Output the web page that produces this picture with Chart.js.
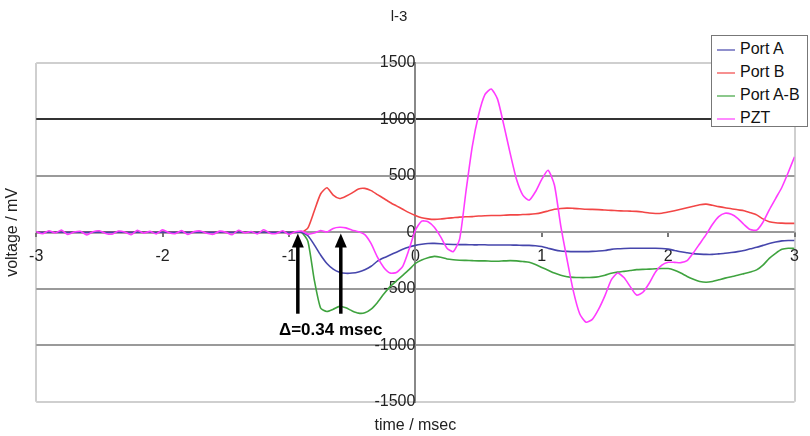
<!DOCTYPE html>
<html>
<head>
<meta charset="utf-8">
<title>l-3</title>
<script src="https://cdn.jsdelivr.net/npm/chart.js@4.4.0/dist/chart.umd.min.js"></script>
<style>
  html, body { margin: 0; padding: 0; background: #fff; }
  #wrap { position: relative; width: 810px; height: 436px; }
  #legend {
    position: absolute; left: 711px; top: 35px; width: 97px; height: 92px;
    box-sizing: border-box; border: 1px solid #777; background: #fff;
    font: 16px Arial, "Liberation Sans", sans-serif; color: #111; padding-top: 1px;
  }
  #legend .item { height: 23px; line-height: 23px; white-space: nowrap; }
  #legend .swatch {
    display: inline-block; width: 18px; height: 0; border-top: 2px solid;
    vertical-align: middle; margin: 0 5px 0 5px; opacity: 0.6;
  }
</style>
</head>
<body>
<div id="wrap">
  <canvas id="chart" width="810" height="436"></canvas>
  <div id="legend"></div>
</div>
<script>
// time axis (msec), one sample every 0.05 msec
const times = [
  -3, -2.95, -2.9, -2.85, -2.8, -2.75, -2.7, -2.65, -2.6, -2.55,
  -2.5, -2.45, -2.4, -2.35, -2.3, -2.25, -2.2, -2.15, -2.1, -2.05,
  -2, -1.95, -1.9, -1.85, -1.8, -1.75, -1.7, -1.65, -1.6, -1.55,
  -1.5, -1.45, -1.4, -1.35, -1.3, -1.25, -1.2, -1.15, -1.1, -1.05,
  -1, -0.95, -0.9, -0.85, -0.8, -0.75, -0.7, -0.65, -0.6, -0.55,
  -0.5, -0.45, -0.4, -0.35, -0.3, -0.25, -0.2, -0.15, -0.1, -0.05,
  0, 0.05, 0.1, 0.15, 0.2, 0.25, 0.3, 0.35, 0.4, 0.45,
  0.5, 0.55, 0.6, 0.65, 0.7, 0.75, 0.8, 0.85, 0.9, 0.95,
  1, 1.05, 1.1, 1.15, 1.2, 1.25, 1.3, 1.35, 1.4, 1.45,
  1.5, 1.55, 1.6, 1.65, 1.7, 1.75, 1.8, 1.85, 1.9, 1.95,
  2, 2.05, 2.1, 2.15, 2.2, 2.25, 2.3, 2.35, 2.4, 2.45,
  2.5, 2.55, 2.6, 2.65, 2.7, 2.75, 2.8, 2.85, 2.9, 2.95,
  3
];

// voltages in mV
const portA = [
  0, 0, 0, 0, 0, 0, 0, 0, 0, 0, 0, 0, 0, 0, 0, 0, 0, 0, 0, 0, 0,
  0, 0, 0, 0, 0, 0, 0, 0, 0, 0, 0, 0, 0, 0, 0, 0, 0, 0, 0, 0, 0,
  0, -30, -110, -200, -275, -325, -352, -362, -360, -350, -330, -300, -255, -225, -200, -175, -150, -130, -115,
  -105, -98, -97, -100, -105, -107, -108, -108, -110, -110, -110, -112, -112, -112, -112, -113, -115, -115, -118, -125,
  -140, -155, -165, -168, -170, -170, -170, -168, -165, -160, -150, -145, -142, -140, -140, -140, -140, -140, -142, -148,
  -160, -172, -180, -188, -192, -195, -195, -190, -185, -178, -170, -160, -145, -132, -115, -98, -85, -75, -72, -72
];

const portB = [
  0, 0, 0, 0, 0, 0, 0, 0, 0, 0, 0, 0, 0, 0, 0, 0, 0, 0, 0, 0, 0,
  0, 0, 0, 0, 0, 0, 0, 0, 0, 0, 0, 0, 0, 0, 0, 0, 0, 0, 0, 0, 0,
  0, 40, 190, 340, 395, 330, 300, 320, 350, 385, 390, 370, 335, 300, 265, 235, 205, 175, 150,
  130, 120, 115, 118, 125, 130, 135, 138, 140, 145, 148, 150, 150, 152, 155, 155, 158, 160, 165, 175,
  190, 205, 212, 215, 213, 210, 205, 204, 202, 198, 195, 192, 190, 188, 186, 180, 172, 168, 170, 180,
  192, 205, 218, 232, 245, 250, 240, 228, 218, 210, 200, 192, 175, 155, 120, 95, 85, 82, 80, 80
];

const portAB = [
  0, 0, 0, 0, 0, 0, 0, 0, 0, 0, 0, 0, 0, 0, 0, 0, 0, 0, 0, 0, 0,
  0, 0, 0, 0, 0, 0, 0, 0, 0, 0, 0, 0, 0, 0, 0, 0, 0, 0, 0, 0, 0,
  0, -80, -420, -670, -700, -680, -655, -668, -695, -715, -712, -680, -620, -545, -480, -430, -380, -330, -275,
  -245, -225, -212, -220, -235, -242, -246, -248, -250, -252, -252, -255, -255, -252, -250, -252, -258, -265, -285, -310,
  -335, -360, -380, -392, -398, -400, -400, -398, -392, -380, -362, -352, -345, -338, -330, -327, -325, -322, -320, -320,
  -335, -360, -390, -415, -435, -442, -435, -420, -405, -392, -380, -365, -350, -332, -290, -230, -185, -150, -140, -142
];

const pzt = [
  8, -12, 15, -5, 20, -18, 3, 10, -22, 6, 14, -9, -16, 12, 4, -20, 18, -6, 9, -14,
  22, -3, -11, 16, -19, 7, 13, -8, -17, 11, 2, -21, 19, -4, 8, -13, 24, -7, -10, 15,
  -18, 5, 12, -15, -6, 17, 3,
  35, 45, 40, 20, 5, -20, -100, -220, -310, -360, -355, -300, -150, 20,
  100, 95, 45, -40, -140, -170, -60, 360, 760, 1040, 1220, 1270, 1180, 950, 700, 470, 330, 285, 360, 470,
  550, 420, 60, -240, -520, -720, -795, -770, -680, -560, -420, -360, -400, -480, -555, -530, -450, -350, -290, -265,
  -265, -268, -250, -180, -100, -20, 70, 140, 170, 160, 125, 70, 25, 20, 90, 200, 300, 400, 530, 670
];

const seriesNames = ['Port A', 'Port B', 'Port A-B', 'PZT'];
const seriesColors = ['#4646ac', '#f24646', '#3fa33f', '#ff3cff'];
const seriesValues = [portA, portB, portAB, pzt];

const yTicks = [-1500, -1000, -500, 0, 500, 1000, 1500];
const xTicks = [-3, -2, -1, 0, 1, 2, 3];

// the two arrows marking the onset delay
const arrowTimes = [-0.93, -0.59];
const arrowTail = -720;
const arrowTip = -10;
const noteText = '\u0394=0.34 msec';
const noteAt = [-0.67, -867];

Chart.defaults.font.family = 'Arial, "Liberation Sans", sans-serif';
Chart.defaults.font.size = 16;
Chart.defaults.color = '#222';

const datasets = seriesNames.map(function(name, i) {
  return {
    label: name,
    data: times.map(function(t, j) { return {x: t, y: seriesValues[i][j]}; }),
    borderColor: seriesColors[i],
    backgroundColor: seriesColors[i],
    borderWidth: 1.6,
    pointRadius: 0,
    tension: 0.2,
    order: name === 'PZT' ? 0 : 1
  };
});

// arrows + delta label, placed through the chart scales
const arrowPlugin = {
  id: 'arrows',
  afterDatasetsDraw(chart) {
    const ctx = chart.ctx;
    const x = chart.scales.x;
    const y = chart.scales.y;
    ctx.save();
    ctx.fillStyle = '#000';
    ctx.strokeStyle = '#000';
    ctx.lineWidth = 3.5;
    arrowTimes.forEach(function(t) {
      const px = x.getPixelForValue(t);
      const yTip = y.getPixelForValue(arrowTip);
      const yTail = y.getPixelForValue(arrowTail);
      ctx.beginPath();
      ctx.moveTo(px, yTail);
      ctx.lineTo(px, yTip + 12);
      ctx.stroke();
      ctx.beginPath();
      ctx.moveTo(px, yTip);
      ctx.lineTo(px - 6, yTip + 14);
      ctx.lineTo(px + 6, yTip + 14);
      ctx.closePath();
      ctx.fill();
    });
    ctx.font = 'bold 17px Arial, "Liberation Sans", sans-serif';
    ctx.textAlign = 'center';
    ctx.textBaseline = 'middle';
    ctx.fillText(noteText, x.getPixelForValue(noteAt[0]), y.getPixelForValue(noteAt[1]));
    ctx.restore();
  }
};

const config = {
  type: 'line',
  data: { datasets: datasets },
  options: {
    responsive: false,
    animation: false,
    layout: { padding: { left: 0, right: 12, top: 0, bottom: 0 } },
    plugins: {
      legend: { display: false },
      tooltip: { enabled: false },
      title: {
        display: true,
        text: 'l-3',
        color: '#222',
        font: { size: 15, weight: 'normal' },
        padding: { top: 8, bottom: 37 }
      }
    },
    scales: {
      x: {
        type: 'linear',
        position: { y: 0 },
        min: -3,
        max: 3,
        afterBuildTicks: function(scale) { scale.ticks = xTicks.map(function(v) { return {value: v}; }); },
        ticks: { padding: 11, color: '#222', callback: function(v) { return String(v); } },
        grid: {
          color: function(c) { return c.tick && Math.abs(c.tick.value) === 3 ? '#cfcfcf' : 'rgba(0,0,0,0)'; },
          lineWidth: 2,
          tickColor: '#777',
          tickLength: 4
        },
        border: { display: true, color: '#999', width: 1 }
      },
      y: {
        type: 'linear',
        position: { x: 0 },
        min: -1500,
        max: 1500,
        afterBuildTicks: function(scale) { scale.ticks = yTicks.map(function(v) { return {value: v}; }); },
        ticks: { padding: 13, color: '#222', callback: function(v) { return String(v); } },
        grid: {
          color: function(c) {
            if (!c.tick) return '#999';
            if (c.tick.value === 1000) return '#333';
            if (Math.abs(c.tick.value) === 1500) return '#cfcfcf';
            return '#9a9a9a';
          },
          lineWidth: 2,
          drawTicks: false
        },
        border: { display: true, color: '#888', width: 2 }
      },
      xTitle: {
        type: 'linear',
        position: 'bottom',
        ticks: { display: false },
        grid: { display: false, drawTicks: false },
        border: { display: false },
        title: { display: true, text: 'time / msec', color: '#222', padding: { top: 14, bottom: 1 } }
      },
      yTitle: {
        type: 'linear',
        position: 'left',
        ticks: { display: false },
        grid: { display: false, drawTicks: false },
        border: { display: false },
        title: { display: true, text: 'voltage / mV', color: '#222', padding: { top: 3, bottom: 14 } }
      }
    }
  },
  plugins: [arrowPlugin]
};

const context = document.getElementById('chart').getContext('2d');
const myChart = new Chart(context, config);

// legend box in the upper right corner
const legend = document.getElementById('legend');
seriesNames.forEach(function(name, i) {
  const row = document.createElement('div');
  row.className = 'item';
  const sw = document.createElement('span');
  sw.className = 'swatch';
  sw.style.borderTopColor = seriesColors[i];
  row.appendChild(sw);
  row.appendChild(document.createTextNode(name));
  legend.appendChild(row);
});
</script>
</body>
</html>
